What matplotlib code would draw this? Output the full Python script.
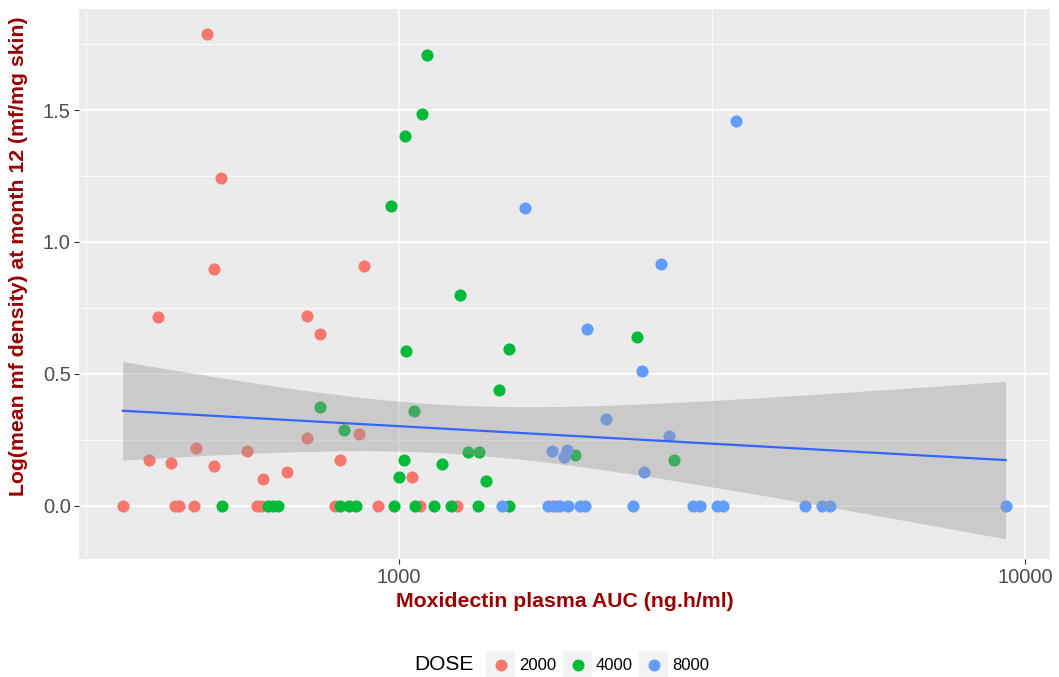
import numpy as np
import matplotlib
matplotlib.use("Agg")
import matplotlib.pyplot as plt
from matplotlib.ticker import FixedLocator, NullFormatter
from matplotlib.lines import Line2D
from matplotlib.patches import Rectangle

plt.rcParams["font.family"] = ["Liberation Sans", "DejaVu Sans"]

# ── Data ──────────────────────────────────────────────────────
auc_2000 = [493, 520, 506, 412, 713, 748, 879, 399, 433, 474, 506, 571, 606, 662,
            713, 805, 862, 1048,
            362, 438, 445, 471, 593, 602, 791, 925, 1080, 1236, 1762]
mf_2000 = [1.787, 1.242, 0.897, 0.715, 0.72, 0.65, 0.91, 0.173, 0.163, 0.218, 0.152,
           0.208, 0.10, 0.127, 0.255, 0.173, 0.272, 0.108,
           0, 0, 0, 0, 0, 0, 0, 0, 0, 0, 0]

auc_4000 = [1108, 1088, 1022, 971, 1251, 1026, 1500, 2399, 1445, 748, 1057, 817,
            1289, 1342, 1018, 1172, 1000, 1377, 1911, 2748,
            522, 618, 629, 641, 805, 832, 854, 982, 1061, 1139, 1209, 1337, 1499]
mf_4000 = [1.708, 1.485, 1.401, 1.136, 0.799, 0.588, 0.593, 0.639, 0.439, 0.374,
           0.358, 0.286, 0.204, 0.204, 0.173, 0.158, 0.108, 0.092, 0.192, 0.173,
           0, 0, 0, 0, 0, 0, 0, 0, 0, 0, 0, 0, 0]

auc_8000 = [1590, 3454, 2623, 1995, 2444, 2142, 2698, 1754, 1854, 1836, 2460,
            1459, 1732, 1786, 1807, 1864, 1944, 1982, 2367, 2951, 3026, 3218, 3296,
            4446, 4733, 4882, 9311]
mf_8000 = [1.128, 1.458, 0.916, 0.67, 0.51, 0.328, 0.265, 0.208, 0.211, 0.183, 0.128,
           0, 0, 0, 0, 0, 0, 0, 0, 0, 0, 0, 0, 0, 0, 0, 0]

doses = ["2000", "4000", "8000"]
colors = ["#F8766D", "#00BA38", "#619CFF"]

W, H = 1059, 677

# ── Figure ────────────────────────────────────────────────────
fig = plt.figure(figsize=(W / 100, H / 100), dpi=100)
ax = fig.add_axes([79 / W, 1 - 559.3 / H, (1050 - 79) / W, (559.3 - 9.3) / H])
ax.set_facecolor("#EBEBEB")
for s in ax.spines.values():
    s.set_visible(False)

for auc, mf, c in zip([auc_2000, auc_4000, auc_8000], [mf_2000, mf_4000, mf_8000], colors):
    ax.scatter(auc, mf, s=76, color=c, linewidths=0, zorder=3)

# linear fit on log10(AUC) with 95% band (like geom_smooth(method="lm"))
x_all = np.log10(np.array(auc_2000 + auc_4000 + auc_8000, dtype=float))
y_all = np.array(mf_2000 + mf_4000 + mf_8000, dtype=float)
n = len(x_all)
b, a = np.polyfit(x_all, y_all, 1)
resid = y_all - (a + b * x_all)
se = np.sqrt(np.sum(resid ** 2) / (n - 2))
xg = np.linspace(x_all.min(), x_all.max(), 80)
yg = a + b * xg
half = 1.983 * se * np.sqrt(1 / n + (xg - x_all.mean()) ** 2 / np.sum((x_all - x_all.mean()) ** 2))
ax.fill_between(10 ** xg, yg - half, yg + half, color="#999999", alpha=0.4, linewidth=0, zorder=4)
ax.plot(10 ** xg, yg, color="#3366FF", lw=1.6, zorder=5)

ax.set_xscale("log")
ax.set_xlim(10 ** 2.4888, 10 ** 4.04)
ax.set_ylim(-0.203, 1.882)

ax.xaxis.set_major_locator(FixedLocator([1000, 10000]))
ax.xaxis.set_minor_locator(FixedLocator([10 ** 2.5, 10 ** 3.5]))
ax.xaxis.set_minor_formatter(NullFormatter())
ax.set_xticklabels(["1000", "10000"])
ax.yaxis.set_major_locator(FixedLocator([0, 0.5, 1.0, 1.5]))
ax.yaxis.set_minor_locator(FixedLocator([0.25, 0.75, 1.25, 1.75]))
ax.set_yticklabels(["0.0", "0.5", "1.0", "1.5"])

ax.grid(which="major", color="white", lw=1.1)
ax.grid(which="minor", color="white", lw=0.55)
ax.set_axisbelow(True)
ax.tick_params(which="major", length=3.5, width=0.8, color="#333333",
               labelcolor="#4D4D4D", labelsize=14.5, pad=2.5)
ax.tick_params(which="minor", length=0)

ax.set_xlabel("Moxidectin plasma AUC (ng.h/ml)", color="#990000",
              fontweight="bold", fontsize=15.3, labelpad=4)
ax.set_ylabel("Log(mean mf density) at month 12 (mf/mg skin)", color="#990000",
              fontweight="bold", fontsize=15.3)
ax.yaxis.set_label_coords(-0.0525, 0.5515)

# ── Legend (bottom, title to the left, grey key boxes) ────────
ly = 1 - 665 / H
fig.text(474 / W, ly, "DOSE", ha="right", va="center", fontsize=15, color="black")
key_left = [486, 563, 639]
for kx, lab, c in zip(key_left, doses, colors):
    fig.patches.append(Rectangle((kx / W, ly - 14 / H), 29 / W, 28 / H,
                                 transform=fig.transFigure, facecolor="#F2F2F2",
                                 edgecolor="none"))
    fig.lines.append(Line2D([(kx + 14.5) / W], [ly], transform=fig.transFigure,
                            marker="o", ls="", color=c, markersize=8.6,
                            markeredgewidth=0))
    fig.text((kx + 33) / W, ly, lab, ha="left", va="center", fontsize=12, color="black")

fig.savefig("out.png", dpi=100)
